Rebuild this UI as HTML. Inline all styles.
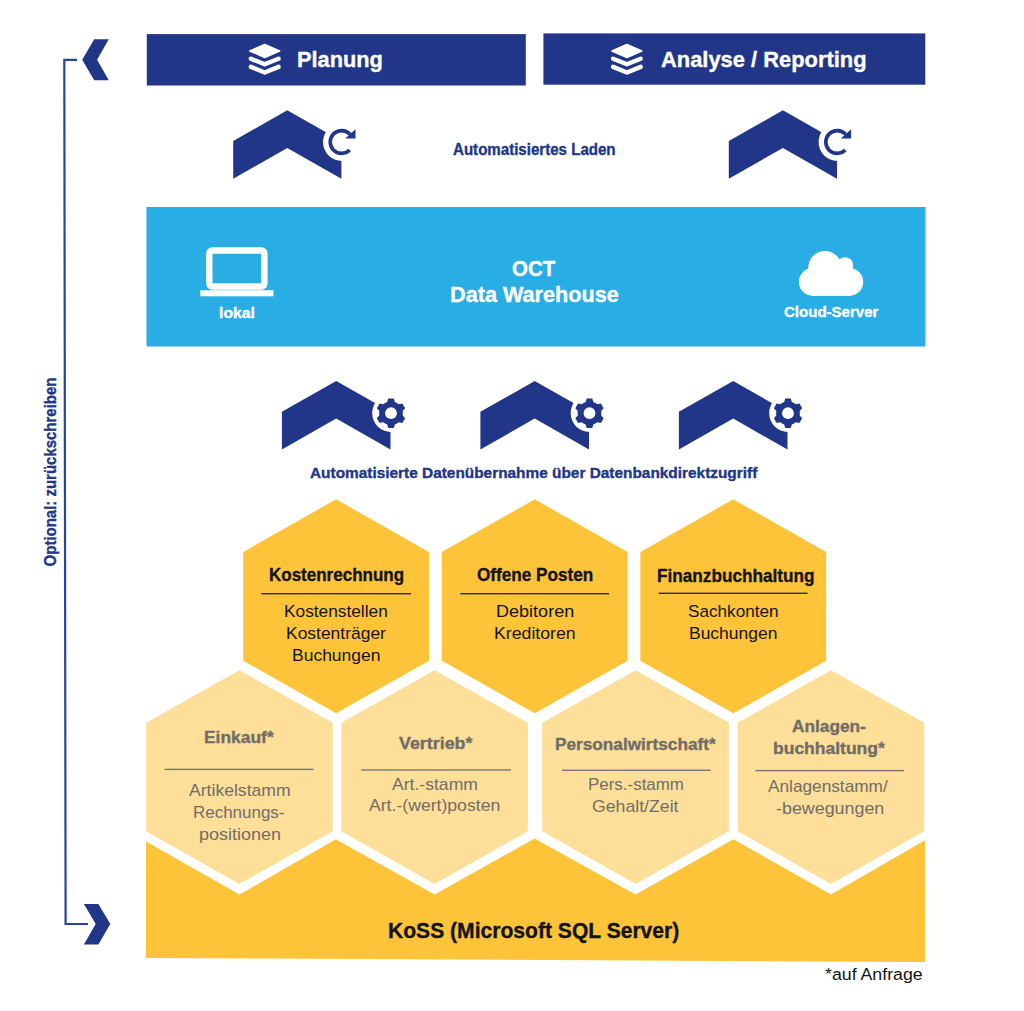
<!DOCTYPE html>
<html><head><meta charset="utf-8"><style>
html,body{margin:0;padding:0;background:#fff;width:1024px;height:1011px;overflow:hidden}
svg{position:absolute;left:0;top:0}
.t{position:absolute;white-space:nowrap;font-family:"Liberation Sans",sans-serif;line-height:60px;height:60px;transform-origin:0 0}
</style></head><body>
<svg width="1024" height="1011" viewBox="0 0 1024 1011">
<rect x="146.8" y="34.1" width="379" height="51.4" fill="#213688"/>
<rect x="543.4" y="33.4" width="381.9" height="51.3" fill="#213688"/>
<path d="M249.8,50.9 L264.7,44.6 L279.6,50.9 L264.7,57.4 Z" fill="#fff" stroke="#fff" stroke-width="1.6" stroke-linejoin="round"/><polyline points="250.9,58.7 264.7,64.3 278.5,58.7" fill="none" stroke="#fff" stroke-width="4.4" stroke-linecap="round" stroke-linejoin="round"/><polyline points="250.9,66.9 264.7,72.5 278.5,66.9" fill="none" stroke="#fff" stroke-width="4.4" stroke-linecap="round" stroke-linejoin="round"/>
<path d="M612,50.9 L626.9,44.6 L641.8,50.9 L626.9,57.4 Z" fill="#fff" stroke="#fff" stroke-width="1.6" stroke-linejoin="round"/><polyline points="613.1,58.7 626.9,64.3 640.7,58.7" fill="none" stroke="#fff" stroke-width="4.4" stroke-linecap="round" stroke-linejoin="round"/><polyline points="613.1,66.9 626.9,72.5 640.7,66.9" fill="none" stroke="#fff" stroke-width="4.4" stroke-linecap="round" stroke-linejoin="round"/>
<polygon fill="#213688" points="233.2,141.1 287.3,110.2 341.4,141.1 341.4,178.7 287.3,148 233.2,178.7"/>
<circle cx="342" cy="142" r="19" fill="#fff"/>
<path d="M349.66,150.06 A11.4,11.4 0 1 1 350.07,134.37" fill="none" stroke="#213688" stroke-width="3.6"/>
<polygon fill="#213688" points="345.2,138.6 355.5,129.2 355.5,138.6"/>
<polygon fill="#213688" points="728.8,141.1 782.9,110.2 837,141.1 837,178.7 782.9,148 728.8,178.7"/>
<circle cx="837.6" cy="142" r="19" fill="#fff"/>
<path d="M845.26,150.06 A11.4,11.4 0 1 1 845.67,134.37" fill="none" stroke="#213688" stroke-width="3.6"/>
<polygon fill="#213688" points="840.8,138.6 851.1,129.2 851.1,138.6"/>
<polygon fill="#213688" points="281.9,411.8 336.2,381.1 390.5,411.8 390.5,449.6 336.2,418.5 281.9,449.6"/>
<circle cx="391" cy="413.1" r="18.8" fill="#fff"/>
<path d="M387.17,401.93 L388.22,398.46 L393.78,398.46 L394.83,401.93 A11.9,11.9 0 0 1 398.84,404.25 L402.37,403.42 L405.16,408.24 L402.67,410.88 A11.9,11.9 0 0 1 402.67,415.52 L405.16,418.16 L402.37,422.98 L398.84,422.15 A11.9,11.9 0 0 1 394.83,424.47 L393.78,427.94 L388.22,427.94 L387.17,424.47 A11.9,11.9 0 0 1 383.16,422.15 L379.63,422.98 L376.84,418.16 L379.33,415.52 A11.9,11.9 0 0 1 379.33,410.88 L376.84,408.24 L379.63,403.42 L383.16,404.25 A11.9,11.9 0 0 1 387.17,401.93 Z" fill="#213688"/><circle cx="391" cy="413.2" r="5.9" fill="#fff"/>
<polygon fill="#213688" points="480.4,411.8 534.7,381.1 589,411.8 589,449.6 534.7,418.5 480.4,449.6"/>
<circle cx="589.5" cy="413.1" r="18.8" fill="#fff"/>
<path d="M585.67,401.93 L586.72,398.46 L592.28,398.46 L593.33,401.93 A11.9,11.9 0 0 1 597.34,404.25 L600.87,403.42 L603.66,408.24 L601.17,410.88 A11.9,11.9 0 0 1 601.17,415.52 L603.66,418.16 L600.87,422.98 L597.34,422.15 A11.9,11.9 0 0 1 593.33,424.47 L592.28,427.94 L586.72,427.94 L585.67,424.47 A11.9,11.9 0 0 1 581.66,422.15 L578.13,422.98 L575.34,418.16 L577.83,415.52 A11.9,11.9 0 0 1 577.83,410.88 L575.34,408.24 L578.13,403.42 L581.66,404.25 A11.9,11.9 0 0 1 585.67,401.93 Z" fill="#213688"/><circle cx="589.5" cy="413.2" r="5.9" fill="#fff"/>
<polygon fill="#213688" points="678.9,411.8 733.2,381.1 787.5,411.8 787.5,449.6 733.2,418.5 678.9,449.6"/>
<circle cx="788" cy="413.1" r="18.8" fill="#fff"/>
<path d="M784.17,401.93 L785.22,398.46 L790.78,398.46 L791.83,401.93 A11.9,11.9 0 0 1 795.84,404.25 L799.37,403.42 L802.16,408.24 L799.67,410.88 A11.9,11.9 0 0 1 799.67,415.52 L802.16,418.16 L799.37,422.98 L795.84,422.15 A11.9,11.9 0 0 1 791.83,424.47 L790.78,427.94 L785.22,427.94 L784.17,424.47 A11.9,11.9 0 0 1 780.16,422.15 L776.63,422.98 L773.84,418.16 L776.33,415.52 A11.9,11.9 0 0 1 776.33,410.88 L773.84,408.24 L776.63,403.42 L780.16,404.25 A11.9,11.9 0 0 1 784.17,401.93 Z" fill="#213688"/><circle cx="788" cy="413.2" r="5.9" fill="#fff"/>
<rect x="146.5" y="207" width="779" height="139.5" fill="#28ade4"/>
<rect x="209.3" y="250.45" width="55.1" height="36.05" rx="3" fill="none" stroke="#fff" stroke-width="6.4"/>
<rect x="200.3" y="290.2" width="73.2" height="6.1" fill="#fff"/>
<g fill="#fff"><circle cx="812.9" cy="281.9" r="14"/><circle cx="849.2" cy="281.9" r="14"/><circle cx="824.9" cy="267.6" r="16.7"/><circle cx="845" cy="265.4" r="8.2"/><rect x="812.9" y="265" width="36.3" height="30.9"/></g>
<polygon fill="#fdc43a" points="336.1,499.3 429,552 429,660.7 336.1,713.3 243.2,660.7 243.2,552"/>
<polygon fill="#fdc43a" points="534.75,499.3 627.65,552 627.65,660.7 534.75,713.3 441.85,660.7 441.85,552"/>
<polygon fill="#fdc43a" points="733.25,499.3 826.15,552 826.15,660.7 733.25,713.3 640.35,660.7 640.35,552"/>
<polygon fill="#fddf99" points="239.4,670.2 332.7,722.7 332.7,831.3 239.4,883.9 146.1,831.3 146.1,722.7"/>
<polygon fill="#fddf99" points="434.55,670.2 527.85,722.7 527.85,831.3 434.55,883.9 341.25,831.3 341.25,722.7"/>
<polygon fill="#fddf99" points="635.55,670.2 728.85,722.7 728.85,831.3 635.55,883.9 542.25,831.3 542.25,722.7"/>
<polygon fill="#fddf99" points="831,670.2 924.3,722.7 924.3,831.3 831,883.9 737.7,831.3 737.7,722.7"/>
<polygon fill="#fdc43a" points="146,841.4 239.5,894.6 335.8,839.2 434.55,894.6 534.6,838.5 635.55,894.6 733.4,839.2 831,894.6 924.9,840.2 925,962 145.9,957.9"/>
<rect x="261.4" y="593" width="149.6" height="1.4" fill="#2b2b2b"/>
<rect x="460.3" y="593" width="148.7" height="1.4" fill="#2b2b2b"/>
<rect x="658.7" y="592.6" width="148.9" height="1.4" fill="#2b2b2b"/>
<rect x="164.4" y="768.7" width="149" height="1.4" fill="#7a766e"/>
<rect x="361.25" y="769.3" width="149.75" height="1.4" fill="#7a766e"/>
<rect x="562" y="769.6" width="148.7" height="1.4" fill="#7a766e"/>
<rect x="755.3" y="769.9" width="148.7" height="1.4" fill="#7a766e"/>
<path d="M77,59.9 L64.3,59.9 L65.6,924.0 L88,924.0" fill="none" stroke="#2a42a3" stroke-width="2.2"/>
<polygon fill="#213688" points="82.2,59.8 94.2,39.3 108.8,39.3 97.1,59.8 108.8,80.3 94.2,80.3"/>
<polygon fill="#213688" points="110.3,923.9 98.4,903.9 83.9,903.9 95.7,923.9 83.9,944.6 98.4,944.6"/>
</svg>
<div class="t" style="left:296.92px;top:29.9px;font-size:22px;font-weight:700;color:#ffffff;-webkit-text-stroke:0.35px #ffffff;transform:scaleX(0.9887)">Planung</div>
<div class="t" style="left:660.8px;top:29.8px;font-size:22px;font-weight:700;color:#ffffff;-webkit-text-stroke:0.35px #ffffff;transform:scaleX(0.9951)">Analyse / Reporting</div>
<div class="t" style="left:453.42px;top:120.4px;font-size:15.8px;font-weight:700;color:#213688;-webkit-text-stroke:0.35px #213688;transform:scaleX(0.9547)">Automatisiertes Laden</div>
<div class="t" style="left:512.36px;top:239.3px;font-size:21.8px;font-weight:700;color:#ffffff;-webkit-text-stroke:0.35px #ffffff;transform:scaleX(0.9408)">OCT</div>
<div class="t" style="left:450.01px;top:265.3px;font-size:21.8px;font-weight:700;color:#ffffff;-webkit-text-stroke:0.35px #ffffff;transform:scaleX(0.9931)">Data Warehouse</div>
<div class="t" style="left:218.76px;top:282.5px;font-size:15.2px;font-weight:700;color:#ffffff;-webkit-text-stroke:0.35px #ffffff;transform:scaleX(1.0369)">lokal</div>
<div class="t" style="left:783.56px;top:282.3px;font-size:15.2px;font-weight:700;color:#ffffff;-webkit-text-stroke:0.35px #ffffff;transform:scaleX(0.9899)">Cloud-Server</div>
<div class="t" style="left:309.79px;top:443.4px;font-size:15.2px;font-weight:700;color:#213688;-webkit-text-stroke:0.35px #213688;transform:scaleX(1.0134)">Automatisierte Datenübernahme über Datenbankdirektzugriff</div>
<div class="t" style="left:268.59px;top:544.8px;font-size:17.6px;font-weight:700;color:#141414;-webkit-text-stroke:0.35px #141414;transform:scaleX(0.9661)">Kostenrechnung</div>
<div class="t" style="left:284.05px;top:582px;font-size:16.8px;font-weight:400;color:#141414;transform:scaleX(1.0300)">Kostenstellen</div>
<div class="t" style="left:285.64px;top:603.8px;font-size:16.8px;font-weight:400;color:#141414;transform:scaleX(1.0398)">Kostenträger</div>
<div class="t" style="left:291.84px;top:625.5px;font-size:16.8px;font-weight:400;color:#141414;transform:scaleX(1.0419)">Buchungen</div>
<div class="t" style="left:476.67px;top:544.7px;font-size:17.6px;font-weight:700;color:#141414;-webkit-text-stroke:0.35px #141414;transform:scaleX(0.9745)">Offene Posten</div>
<div class="t" style="left:495.69px;top:581.8px;font-size:16.8px;font-weight:400;color:#141414;transform:scaleX(1.0747)">Debitoren</div>
<div class="t" style="left:494.02px;top:603.8px;font-size:16.8px;font-weight:400;color:#141414;transform:scaleX(1.0555)">Kreditoren</div>
<div class="t" style="left:657.48px;top:546.2px;font-size:17.6px;font-weight:700;color:#141414;-webkit-text-stroke:0.35px #141414;transform:scaleX(0.9764)">Finanzbuchhaltung</div>
<div class="t" style="left:688.23px;top:581.9px;font-size:16.8px;font-weight:400;color:#141414;transform:scaleX(1.0225)">Sachkonten</div>
<div class="t" style="left:688.84px;top:603.5px;font-size:16.8px;font-weight:400;color:#141414;transform:scaleX(1.0407)">Buchungen</div>
<div class="t" style="left:204.32px;top:708.1px;font-size:17.0px;font-weight:700;color:#716d66;-webkit-text-stroke:0.35px #716d66;transform:scaleX(1.0247)">Einkauf*</div>
<div class="t" style="left:189.4px;top:759.8px;font-size:16.4px;font-weight:400;color:#716d66;transform:scaleX(1.0731)">Artikelstamm</div>
<div class="t" style="left:193.41px;top:781.7px;font-size:16.4px;font-weight:400;color:#716d66;transform:scaleX(1.0347)">Rechnungs-</div>
<div class="t" style="left:198.7px;top:803.5px;font-size:16.4px;font-weight:400;color:#716d66;transform:scaleX(1.0955)">positionen</div>
<div class="t" style="left:399.24px;top:714.4px;font-size:17.0px;font-weight:700;color:#716d66;-webkit-text-stroke:0.35px #716d66;transform:scaleX(1.0504)">Vertrieb*</div>
<div class="t" style="left:392.2px;top:754px;font-size:16.4px;font-weight:400;color:#716d66;transform:scaleX(1.0722)">Art.-stamm</div>
<div class="t" style="left:369.4px;top:775.4px;font-size:16.4px;font-weight:400;color:#716d66;transform:scaleX(1.0752)">Art.-(wert)posten</div>
<div class="t" style="left:555.33px;top:714.5px;font-size:17.0px;font-weight:700;color:#716d66;-webkit-text-stroke:0.35px #716d66;transform:scaleX(1.0121)">Personalwirtschaft*</div>
<div class="t" style="left:587.71px;top:753.7px;font-size:16.4px;font-weight:400;color:#716d66;transform:scaleX(1.0331)">Pers.-stamm</div>
<div class="t" style="left:592.39px;top:775.6px;font-size:16.4px;font-weight:400;color:#716d66;transform:scaleX(1.0789)">Gehalt/Zeit</div>
<div class="t" style="left:791.79px;top:696.6px;font-size:17.0px;font-weight:700;color:#716d66;-webkit-text-stroke:0.35px #716d66;transform:scaleX(1.0154)">Anlagen-</div>
<div class="t" style="left:772.71px;top:718.5px;font-size:17.0px;font-weight:700;color:#716d66;-webkit-text-stroke:0.35px #716d66;transform:scaleX(1.0294)">buchhaltung*</div>
<div class="t" style="left:768.2px;top:755.7px;font-size:16.4px;font-weight:400;color:#716d66;transform:scaleX(1.0514)">Anlagenstamm/</div>
<div class="t" style="left:775.68px;top:777.7px;font-size:16.4px;font-weight:400;color:#716d66;transform:scaleX(1.0903)">-bewegungen</div>
<div class="t" style="left:387.86px;top:901.3px;font-size:22.0px;font-weight:700;color:#141414;-webkit-text-stroke:0.35px #141414;transform:scaleX(0.9582)">KoSS (Microsoft SQL Server)</div>
<div class="t" style="left:824.94px;top:944.2px;font-size:17.4px;font-weight:400;color:#141414;transform:scaleX(1.0206)">*auf Anfrage</div>
<div class="t" style="left:0;top:0;font-size:16.4px;font-weight:700;color:#213688;-webkit-text-stroke:0.35px #213688;transform-origin:0 0;transform:translate(20.1px,566.38px) rotate(-90deg) scaleX(0.9132)">Optional: zurückschreiben</div>
</body></html>
